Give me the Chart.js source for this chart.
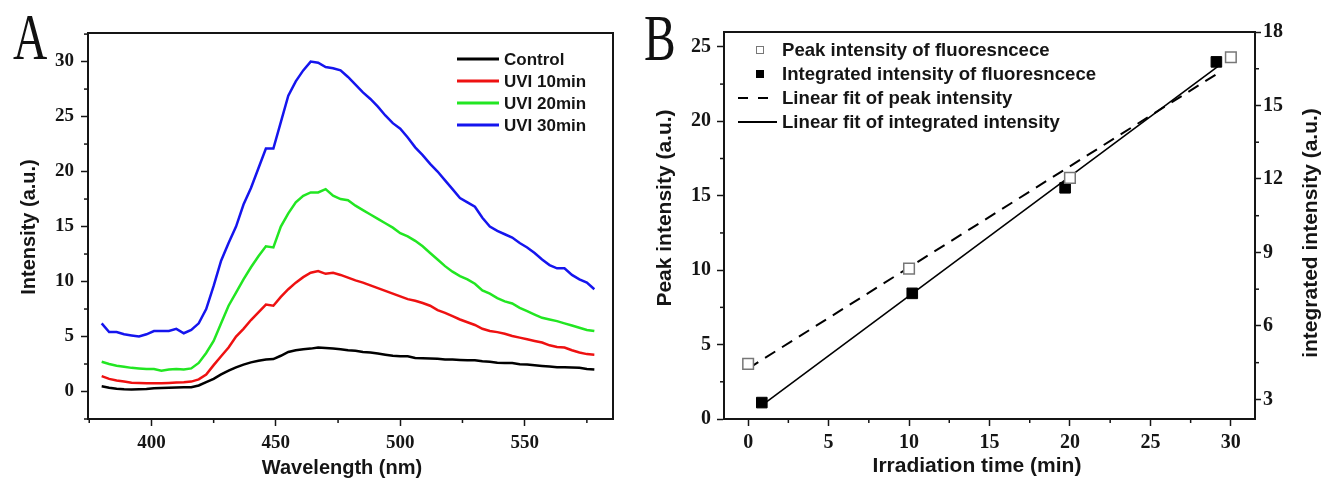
<!DOCTYPE html>
<html lang="en">
<head>
<meta charset="UTF-8">
<title>Fluorescence after UV irradiation</title>
<style>
  html, body { margin: 0; padding: 0; background: #fff; }
  body { width: 1327px; height: 482px; position: relative; overflow: hidden; }
  #chartA { position: absolute; left: 0; top: 0; }
  #chartB { position: absolute; left: 640px; top: 0; }
  .panel { position: absolute; font-family: "Liberation Serif", serif; font-size: 66px; line-height: 1;
           transform: scaleX(0.72); transform-origin: left top; color: #111; }
</style>
</head>
<body>
<canvas id="chartA" width="640" height="482"></canvas>
<canvas id="chartB" width="687" height="482"></canvas>
<div class="panel" style="left:13px;top:4px">A</div>
<div class="panel" style="left:644px;top:5px">B</div>
<script src="https://cdn.jsdelivr.net/npm/chart.js"></script>
<script>
// ---- panel A: emission spectra ----
var wavelengths = [380,383,386,389,392,395,398,401,404,407,410,413,416,419,422,425,428,431,434,437,
  440,443,446,449,452,455,458,461,464,467,470,473,476,479,482,485,488,491,494,497,
  500,503,506,509,512,515,518,521,524,527,530,533,536,539,542,545,548,551,554,557,
  560,563,566,569,572,575,578];
var control = [0.48,0.35,0.25,0.2,0.18,0.2,0.23,0.3,0.33,0.35,0.37,0.38,0.38,0.55,0.85,1.15,1.55,1.9,2.2,2.45,
  2.65,2.8,2.92,2.95,3.25,3.6,3.75,3.85,3.9,4.0,3.95,3.9,3.85,3.75,3.7,3.6,3.55,3.45,3.35,3.25,
  3.2,3.2,3.05,3.02,3.0,2.97,2.92,2.9,2.87,2.85,2.85,2.75,2.7,2.62,2.6,2.6,2.48,2.45,2.38,2.32,
  2.27,2.2,2.2,2.18,2.15,2.05,2.0];
var uvi10 = [1.4,1.15,1.0,0.9,0.8,0.78,0.75,0.75,0.75,0.78,0.82,0.85,0.9,1.1,1.55,2.4,3.2,4.0,5.0,5.7,
  6.5,7.2,7.9,7.8,8.6,9.3,9.9,10.4,10.8,10.95,10.7,10.8,10.6,10.35,10.1,9.9,9.65,9.4,9.15,8.9,
  8.65,8.4,8.25,8.05,7.8,7.4,7.15,6.85,6.55,6.3,6.05,5.7,5.5,5.4,5.25,5.05,4.9,4.75,4.6,4.45,
  4.2,4.05,4.0,3.75,3.55,3.4,3.35];
var uvi20 = [2.7,2.5,2.35,2.25,2.15,2.1,2.05,2.05,1.9,2.0,2.05,2.0,2.1,2.6,3.5,4.6,6.2,7.8,9.0,10.2,
  11.3,12.3,13.2,13.1,15.0,16.2,17.2,17.8,18.1,18.1,18.4,17.8,17.5,17.4,16.9,16.5,16.1,15.7,15.3,14.9,
  14.4,14.1,13.7,13.2,12.6,12.0,11.4,10.9,10.5,10.2,9.8,9.2,8.9,8.5,8.2,8.0,7.6,7.3,7.0,6.7,
  6.55,6.4,6.2,6.0,5.8,5.6,5.5];
var uvi30 = [6.2,5.4,5.4,5.2,5.1,5.0,5.2,5.5,5.5,5.5,5.7,5.3,5.6,6.2,7.5,9.6,11.9,13.5,15.0,17.0,
  18.5,20.3,22.1,22.1,24.5,26.9,28.2,29.2,30.0,29.9,29.5,29.4,29.2,28.6,27.9,27.2,26.6,25.9,25.1,24.4,
  23.9,23.1,22.2,21.5,20.7,20.0,19.2,18.4,17.6,17.2,16.8,15.8,15.0,14.6,14.3,14.0,13.5,13.1,12.6,12.0,
  11.5,11.2,11.2,10.6,10.2,9.9,9.3];

// ---- panel B: intensity vs irradiation time ----
var peakTime = [0, 10, 20, 30];
var peakIntensity = [3.7, 10.1, 16.2, 24.3];
var intTime = [0.85, 10.2, 19.7, 29.1];
var intIntensity = [2.87, 7.33, 11.64, 16.78];
var peakFitTime = [0, 29.3];
var peakFitValue = [3.39, 23.3];
var intFitTime = [0.85, 29.2];
var intFitValue = [2.76, 16.6];

var INK = '#151515';
var SERIF = '"Liberation Serif", "Times New Roman", serif';
var SANS = '"Liberation Sans", Arial, sans-serif';

function pts(xs, ys) {
  return xs.map(function (x, i) { return { x: x, y: ys[i] }; });
}

// frame, minor ticks, axis titles and legend drawn with the chart's own scales
var inkPlugin = {
  id: 'ink',
  afterDraw: function (chart, args, o) {
    var ctx = chart.ctx, a = chart.chartArea;
    ctx.save();
    ctx.strokeStyle = INK;
    ctx.lineWidth = 2;
    ctx.strokeRect(a.left, a.top, a.right - a.left, a.bottom - a.top);

    ctx.lineWidth = 1.5;
    (o.minor || []).forEach(function (m) {
      var s = chart.scales[m.axis];
      var start = Math.ceil(s.min / m.step) * m.step;
      for (var v = start; v <= s.max + 1e-9; v += m.step) {
        if (Math.abs(v / m.major - Math.round(v / m.major)) < 1e-6) continue;
        var p = s.getPixelForValue(v);
        ctx.beginPath();
        if (s.position === 'bottom') { ctx.moveTo(p, a.bottom); ctx.lineTo(p, a.bottom + m.len); }
        else if (s.position === 'left') { ctx.moveTo(a.left, p); ctx.lineTo(a.left - m.len, p); }
        else { ctx.moveTo(a.right, p); ctx.lineTo(a.right + m.len, p); }
        ctx.stroke();
      }
    });

    ctx.fillStyle = INK;
    ctx.textAlign = 'center';
    ctx.textBaseline = 'middle';
    (o.titles || []).forEach(function (t) {
      ctx.save();
      ctx.translate(t.x, t.y);
      ctx.rotate(t.rot || 0);
      ctx.font = t.font;
      ctx.fillText(t.text, 0, 0);
      ctx.restore();
    });

    var L = o.legend;
    if (L) {
      ctx.font = L.font;
      ctx.textAlign = 'left';
      chart.data.datasets.forEach(function (ds, i) {
        var y = L.y + i * L.dy;
        if (ds.showLine) {
          ctx.save();
          ctx.strokeStyle = ds.borderColor;
          ctx.lineWidth = L.lineWidth || ds.borderWidth;
          ctx.setLineDash(L.dash && ds.borderDash ? L.dash : []);
          ctx.beginPath();
          ctx.moveTo(L.x0, y);
          ctx.lineTo(ds.borderDash && L.x1dash ? L.x1dash : L.x1, y);
          ctx.stroke();
          ctx.restore();
        } else {
          var h = L.marker / 2;
          ctx.save();
          ctx.fillStyle = ds.pointBackgroundColor;
          ctx.strokeStyle = ds.pointBorderColor;
          ctx.lineWidth = 1;
          ctx.fillRect(L.mx - h, y - h, L.marker, L.marker);
          ctx.strokeRect(L.mx - h, y - h, L.marker, L.marker);
          ctx.restore();
        }
        ctx.fillStyle = INK;
        ctx.fillText(ds.label, L.tx, y + 1);
      });
    }
    ctx.restore();
  }
};

function axisBase(extra) {
  var base = {
    type: 'linear',
    ticks: { color: INK, font: { family: SERIF, weight: 'bold', size: 19 }, includeBounds: false, maxRotation: 0 },
    grid: { drawOnChartArea: false, drawTicks: true, tickLength: 7, tickWidth: 1.5, tickColor: INK },
    border: { display: true, color: INK, width: 2 }
  };
  for (var k in extra) {
    if (typeof extra[k] === 'object' && base[k] && typeof base[k] === 'object' && !Array.isArray(extra[k])) {
      base[k] = Object.assign({}, base[k], extra[k]);
    } else {
      base[k] = extra[k];
    }
  }
  return base;
}

function line(label, ys, color) {
  return {
    label: label, data: pts(wavelengths, ys), showLine: true,
    borderColor: color, borderWidth: 2.5, pointRadius: 0, pointHoverRadius: 0, tension: 0
  };
}

new Chart(document.getElementById('chartA'), {
  type: 'scatter',
  data: {
    datasets: [
      line('Control', control, '#000000'),
      line('UVI 10min', uvi10, '#ee1111'),
      line('UVI 20min', uvi20, '#22e622'),
      line('UVI 30min', uvi30, '#1515ee')
    ]
  },
  plugins: [inkPlugin],
  options: {
    responsive: false,
    animation: false,
    events: [],
    layout: { padding: { top: 33, right: 27, left: 0, bottom: 0 } },
    scales: {
      x: axisBase({
        min: 374.5, max: 585.5,
        ticks: { stepSize: 50, padding: 6 },
        afterFit: function (s) { s.height = 63; }
      }),
      y: axisBase({
        min: -2.5, max: 32.6,
        ticks: { stepSize: 5, padding: 7 },
        afterFit: function (s) { s.width = 88; }
      })
    },
    plugins: {
      legend: { display: false },
      tooltip: { enabled: false },
      ink: {
        minor: [
          { axis: 'x', step: 25, major: 50, len: 4 },
          { axis: 'y', step: 2.5, major: 5, len: 4 }
        ],
        titles: [
          { text: 'Wavelength (nm)', x: 342, y: 468, font: 'bold 20px ' + SANS },
          { text: 'Intensity (a.u.)', x: 29, y: 227, rot: -Math.PI / 2, font: 'bold 20px ' + SANS }
        ],
        legend: { x0: 457, x1: 499, tx: 504, y: 59, dy: 22, lineWidth: 3, font: 'bold 17px ' + SANS }
      }
    }
  }
});

new Chart(document.getElementById('chartB'), {
  type: 'scatter',
  data: {
    datasets: [
      {
        label: 'Peak intensity of fluoresncece', data: pts(peakTime, peakIntensity), yAxisID: 'y',
        pointStyle: 'rect', pointRadius: 7.5, pointBorderWidth: 1.5,
        pointBackgroundColor: '#ffffff', pointBorderColor: '#777777', order: 0
      },
      {
        label: 'Integrated intensity of fluoresncece', data: pts(intTime, intIntensity), yAxisID: 'y2',
        pointStyle: 'rect', pointRadius: 7.5, pointBorderWidth: 1,
        pointBackgroundColor: '#000000', pointBorderColor: '#000000', order: 0
      },
      {
        label: 'Linear fit of peak intensity', data: pts(peakFitTime, peakFitValue), yAxisID: 'y',
        showLine: true, borderColor: '#000000', borderWidth: 2, borderDash: [12, 8], pointRadius: 0, order: 1
      },
      {
        label: 'Linear fit of integrated intensity', data: pts(intFitTime, intFitValue), yAxisID: 'y2',
        showLine: true, borderColor: '#000000', borderWidth: 1.6, pointRadius: 0, order: 1
      }
    ]
  },
  plugins: [inkPlugin],
  options: {
    responsive: false,
    animation: false,
    events: [],
    layout: { padding: { top: 32, right: 0, left: 0, bottom: 0 } },
    scales: {
      x: axisBase({
        min: -1.5, max: 31.5,
        ticks: { stepSize: 5, padding: 5, font: { family: SERIF, weight: 'bold', size: 20 } },
        afterFit: function (s) { s.height = 63; }
      }),
      y: axisBase({
        position: 'left', min: 0, max: 26,
        ticks: { stepSize: 5, padding: 6, font: { family: SERIF, weight: 'bold', size: 20 } },
        afterFit: function (s) { s.width = 84; }
      }),
      y2: axisBase({
        position: 'right', min: 2.2, max: 18,
        ticks: { stepSize: 3, padding: 2, font: { family: SERIF, weight: 'bold', size: 20 } },
        grid: { drawOnChartArea: false, tickLength: 6 },
        afterFit: function (s) { s.width = 72; }
      })
    },
    plugins: {
      legend: { display: false },
      tooltip: { enabled: false },
      ink: {
        minor: [
          { axis: 'x', step: 2.5, major: 5, len: 4 },
          { axis: 'y', step: 2.5, major: 5, len: 4 },
          { axis: 'y2', step: 1.5, major: 3, len: 4 }
        ],
        titles: [
          { text: 'Irradiation time (min)', x: 337, y: 466, font: 'bold 21px ' + SANS },
          { text: 'Peak intensity (a.u.)', x: 25, y: 208, rot: -Math.PI / 2, font: 'bold 21px ' + SANS },
          { text: 'integrated intensity (a.u.)', x: 671, y: 233, rot: -Math.PI / 2, font: 'bold 21px ' + SANS }
        ],
        legend: { x0: 98, x1: 137, x1dash: 132, dash: [10, 10], mx: 120, marker: 7, tx: 142, y: 50, dy: 24,
                  lineWidth: 2, font: 'bold 18.6px ' + SANS }
      }
    }
  }
});
</script>
</body>
</html>
